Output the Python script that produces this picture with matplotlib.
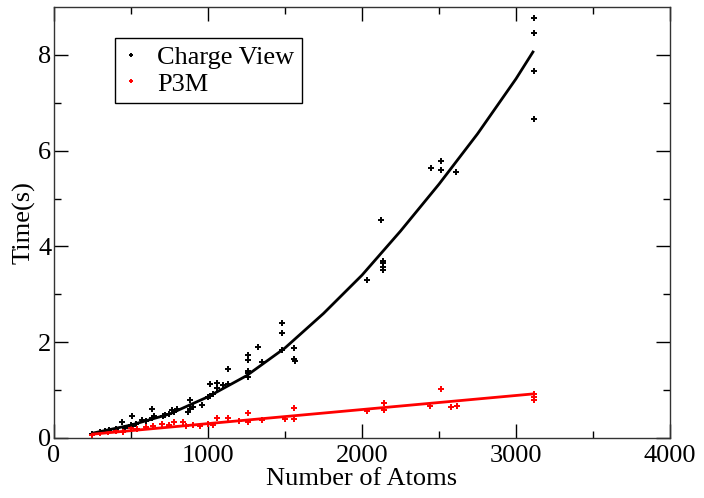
import matplotlib.pyplot as plt
import numpy as np

plt.rcParams['font.family'] = ['Liberation Serif', 'DejaVu Serif']

# Charge View measurements (atoms, seconds)
cv_x = [247, 300, 330, 360, 400, 441, 460, 500, 506, 506, 530, 571, 600, 636, 636, 650,
        708, 720, 750, 766, 780, 800, 870, 883, 883, 900, 961, 1000, 1013, 1013, 1030, 1058,
        1058, 1100, 1130, 1130, 1260, 1260, 1260, 1260, 1260, 1325, 1350, 1480, 1480, 1480,
        1558, 1558, 1565, 2032, 2123, 2136, 2136, 2136, 2136, 2448, 2513, 2513, 2610,
        3117, 3117, 3117, 3120]
cv_y = [0.08, 0.12, 0.15, 0.16, 0.18, 0.34, 0.2, 0.27, 0.46, 0.25, 0.3, 0.38, 0.35, 0.6, 0.42, 0.45,
        0.45, 0.47, 0.5, 0.58, 0.55, 0.6, 0.55, 0.8, 0.6, 0.65, 0.69, 0.85, 1.12, 0.88, 0.92, 1.15,
        1.05, 1.1, 1.44, 1.13, 1.73, 1.62, 1.35, 1.28, 1.4, 1.9, 1.59, 2.4, 2.2, 1.84,
        1.88, 1.65, 1.6, 3.3, 4.55, 3.5, 3.58, 3.65, 3.7, 5.64, 5.78, 5.6, 5.55,
        8.77, 8.45, 7.66, 6.66]

# P3M measurements
p3_x = [247, 300, 350, 400, 450, 500, 540, 600, 640, 700, 750, 780, 838, 860, 900, 950,
        1000, 1030, 1058, 1130, 1200, 1260, 1260, 1350, 1500, 1558, 1558, 2032, 2143, 2143,
        2441, 2513, 2580, 2617, 3117, 3117, 3117]
p3_y = [0.06, 0.1, 0.12, 0.15, 0.13, 0.2, 0.18, 0.22, 0.25, 0.3, 0.28, 0.33, 0.33, 0.25, 0.28, 0.25,
        0.3, 0.27, 0.42, 0.42, 0.35, 0.52, 0.33, 0.38, 0.4, 0.63, 0.4, 0.56, 0.73, 0.58,
        0.67, 1.02, 0.65, 0.67, 0.92, 0.85, 0.8]

# fitted curves
fit_x = [250, 500, 750, 1000, 1250, 1500, 1750, 2000, 2250, 2500, 2750, 3000, 3110]
cv_fit = [0.1, 0.27, 0.5, 0.86, 1.3, 1.88, 2.6, 3.40, 4.32, 5.30, 6.35, 7.5, 8.06]
p3_fit_x = [250, 3110]
p3_fit = [0.08, 0.92]

fs = 19

fig = plt.figure(figsize=(7.04, 4.98), dpi=100)
ax = fig.add_axes([0.0767, 0.1205, 0.875, 0.8655])

ax.plot(cv_x, cv_y, '+', color='black', markersize=4, mew=1.4, label='Charge View')
ax.plot(p3_x, p3_y, '+', color='red', markersize=4, mew=1.4, label='P3M')
ax.plot(fit_x, cv_fit, color='black', lw=2)
ax.plot(p3_fit_x, p3_fit, color='red', lw=2)

ax.set_xlim(0, 4000)
ax.set_ylim(0, 9)
ax.set_xticks([0, 1000, 2000, 3000, 4000])
ax.set_xticks([500, 1500, 2500, 3500], minor=True)
ax.set_yticks([0, 2, 4, 6, 8])
ax.set_yticks([1, 3, 5, 7], minor=True)
ax.tick_params(which='both', direction='in', top=True, right=True, labelsize=fs)
ax.tick_params(which='major', length=10, width=1)
ax.tick_params(which='minor', length=5, width=1)
ax.tick_params(axis='y', pad=2)
ax.tick_params(axis='x', pad=5)
for s in ax.spines.values():
    s.set_linewidth(1)
    s.set_color('#333333')

ax.set_xlabel('Number of Atoms', fontsize=fs, labelpad=1)
ax.set_ylabel('Time(s)', fontsize=fs, labelpad=2)

leg = ax.legend(loc='upper left', bbox_to_anchor=(0.099, 0.928), borderaxespad=0,
                fontsize=fs, fancybox=False, edgecolor='black', framealpha=1,
                handlelength=0.6, handletextpad=0.7, markerscale=0.6,
                borderpad=0.3, labelspacing=0.1)
leg.get_frame().set_linewidth(1)

plt.savefig('out.png', dpi=100)
